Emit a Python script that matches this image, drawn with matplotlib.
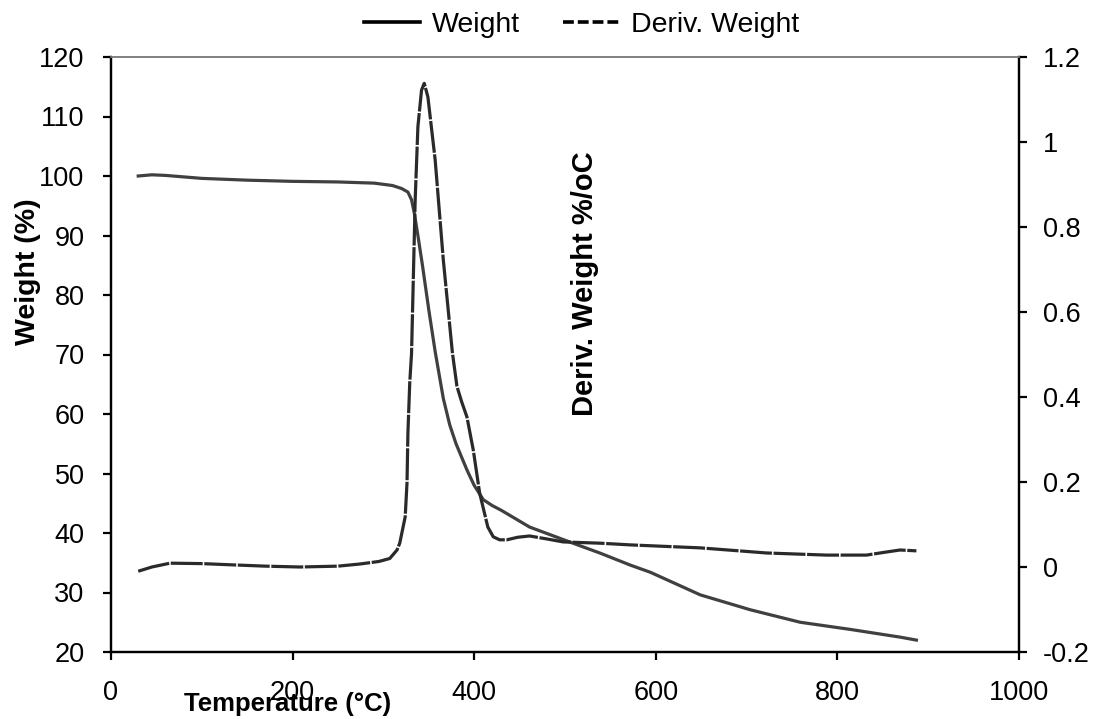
import matplotlib
matplotlib.use("Agg")
import matplotlib.pyplot as plt
from matplotlib.lines import Line2D
from matplotlib.ticker import FuncFormatter

plt.rcParams["font.family"] = ["Liberation Sans", "DejaVu Sans"]
plt.rcParams["axes.unicode_minus"] = False

# TGA data
temp_w = [30, 45, 60, 100, 150, 200, 250, 290, 310, 320, 327, 331, 334, 338, 343,
          350, 357, 366, 373, 380, 392, 400, 410, 420, 430, 461, 505, 539, 572,
          594, 649, 704, 759, 814, 869, 887]
weight = [100.0, 100.2, 100.1, 99.6, 99.3, 99.1, 99.0, 98.8, 98.4, 97.9, 97.3, 96.0,
          93.8, 90.0, 85.0, 77.5, 70.5, 62.6, 58.2, 55.0, 50.6, 48.0, 45.6, 44.6,
          43.8, 41.0, 38.5, 36.6, 34.6, 33.4, 29.6, 27.1, 25.0, 23.8, 22.5, 22.0]

temp_d = [30, 45, 65, 100, 134, 170, 208, 250, 274, 295, 307, 315, 318, 324, 326,
          327, 329, 331, 335, 338, 342, 345, 349, 357, 366, 376, 381, 386, 392, 399,
          406, 415, 421, 428, 436, 448, 461, 480, 498, 539, 572, 649, 722, 788, 832,
          850, 869, 887]
deriv = [-0.010, 0.000, 0.009, 0.008, 0.005, 0.002, 0.000, 0.002, 0.007, 0.013,
         0.020, 0.040, 0.056, 0.118, 0.198, 0.315, 0.433, 0.503, 0.864, 1.036,
         1.122, 1.138, 1.106, 0.958, 0.722, 0.504, 0.425, 0.390, 0.353, 0.275,
         0.174, 0.094, 0.071, 0.064, 0.064, 0.070, 0.073, 0.066, 0.059, 0.056,
         0.052, 0.045, 0.033, 0.028, 0.028, 0.034, 0.040, 0.038]

fig = plt.figure(figsize=(10.97, 7.19), dpi=100)
ax = fig.add_axes([111 / 1097, 1 - 652 / 719, 908 / 1097, 595 / 719])
ax2 = ax.twinx()

ax.plot(temp_w, weight, color="#404040", lw=2.3)
ax2.plot(temp_d, deriv, color="#2a2a2a", lw=2.3, linestyle=(0, (10, 0.5)))

ax.set_xlim(0, 1000)
ax.set_ylim(20, 120)
ax2.set_ylim(-0.2, 1.2)
ax.set_xticks(range(0, 1001, 200))
ax.set_yticks(range(20, 121, 10))
ax2.set_yticks([-0.2, 0, 0.2, 0.4, 0.6, 0.8, 1.0, 1.2])
ax2.yaxis.set_major_formatter(FuncFormatter(lambda v, p: "%g" % round(v, 1)))

for a in (ax, ax2):
    for s in a.spines.values():
        s.set_linewidth(1.6)
        s.set_color("black")
    a.spines["top"].set_color("#808080")
    a.spines["top"].set_linewidth(1.2)
ax.tick_params(axis="x", direction="out", length=6, width=1.6, labelsize=19.5, pad=14)
ax.tick_params(axis="y", direction="out", length=6, width=1.6, labelsize=19.5, pad=13)
ax2.tick_params(axis="y", direction="out", length=6, width=1.6, labelsize=19.5, pad=11)

ax.set_xlabel("Temperature (°C)", fontsize=18.5, fontweight="bold", va="baseline")
ax.xaxis.set_label_coords(0.195, -0.099)
ax.set_ylabel("Weight (%)", fontsize=20.5, fontweight="bold", va="center")
ax.yaxis.set_label_coords(-0.091, 0.64)
ax2.set_ylabel("Deriv. Weight %/oC", fontsize=21, fontweight="bold", va="center")
ax2.yaxis.set_label_coords(0.522, 0.619)

handles = [Line2D([], [], color="black", lw=2.6),
           Line2D([], [], color="black", lw=2.6, linestyle=(0, (3.0, 1.1)))]
fig.legend(handles, ["Weight", "Deriv. Weight"], loc="center",
           bbox_to_anchor=(0.53, 0.965), ncol=2, frameon=False, fontsize=20.5,
           handlelength=2.0, handletextpad=0.4, columnspacing=1.5)

fig.savefig("out.png", dpi=100)
